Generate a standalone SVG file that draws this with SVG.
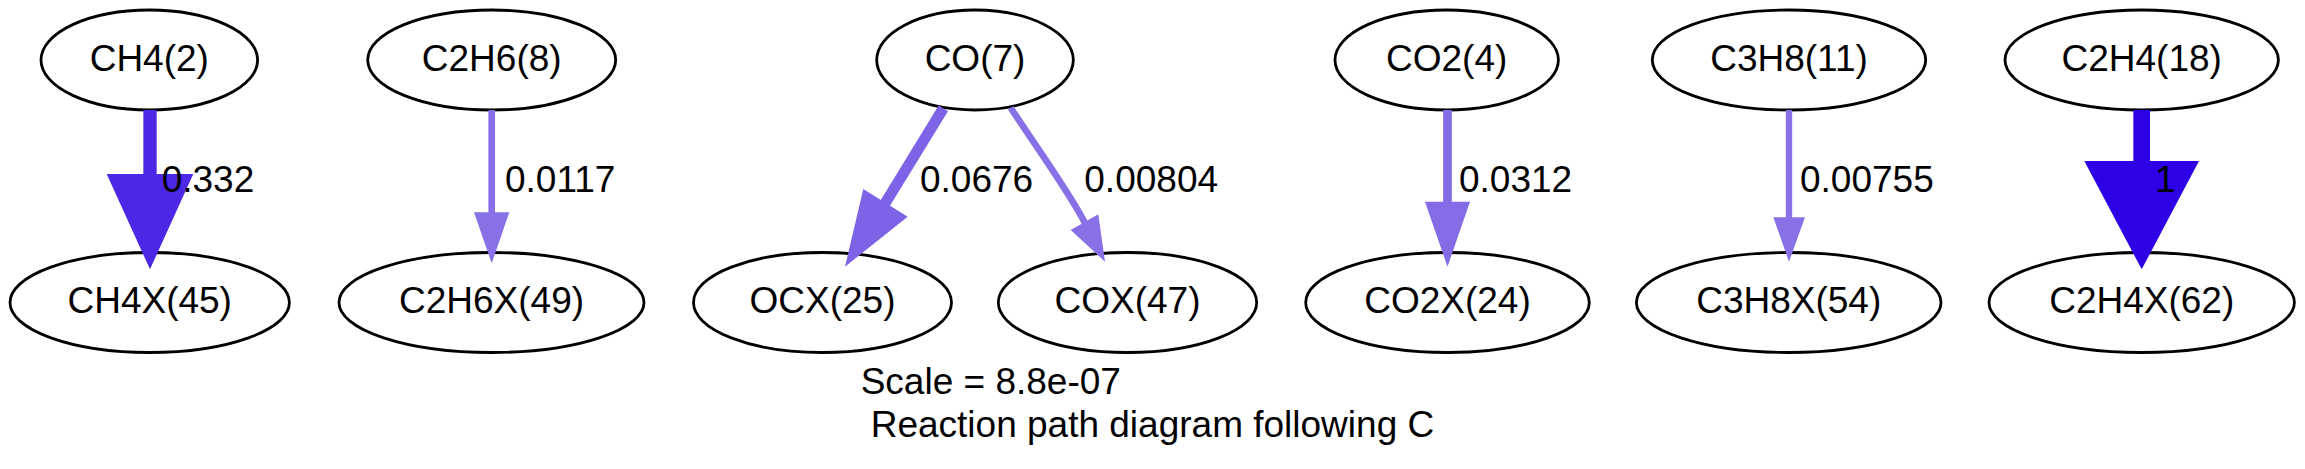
<svg xmlns="http://www.w3.org/2000/svg" width="2305" height="469" viewBox="0 0 2305 469">
<style>
text{font-family:"Liberation Sans",Arial,Helvetica,sans-serif;font-size:37px;fill:#000}
.n ellipse{fill:none;stroke:#000;stroke-width:2.8}
.n text{text-anchor:middle}
</style>
<rect width="2305" height="469" fill="#fff"/>
<g id="nodes">
<g id="CH4" class="n"><ellipse cx="149.3" cy="60" rx="108.3" ry="50"/><text x="149.3" y="71">CH4(2)</text></g>
<g id="CH4X" class="n"><ellipse cx="149.7" cy="302.5" rx="139.7" ry="50"/><text x="149.7" y="313">CH4X(45)</text></g>
<g id="C2H6" class="n"><ellipse cx="491.7" cy="60" rx="124" ry="50"/><text x="491.7" y="71">C2H6(8)</text></g>
<g id="C2H6X" class="n"><ellipse cx="491.5" cy="302.5" rx="152.5" ry="50"/><text x="491.5" y="313">C2H6X(49)</text></g>
<g id="CO" class="n"><ellipse cx="975" cy="60" rx="98.3" ry="50"/><text x="975" y="71">CO(7)</text></g>
<g id="OCX" class="n"><ellipse cx="822.5" cy="302.5" rx="129" ry="50"/><text x="822.5" y="313">OCX(25)</text></g>
<g id="COX" class="n"><ellipse cx="1127.5" cy="302.5" rx="129.2" ry="50"/><text x="1127.5" y="313">COX(47)</text></g>
<g id="CO2" class="n"><ellipse cx="1446.7" cy="60" rx="111.7" ry="50"/><text x="1446.7" y="71">CO2(4)</text></g>
<g id="CO2X" class="n"><ellipse cx="1447.5" cy="302.5" rx="141.8" ry="50"/><text x="1447.5" y="313">CO2X(24)</text></g>
<g id="C3H8" class="n"><ellipse cx="1789" cy="60" rx="136.7" ry="50"/><text x="1789" y="71">C3H8(11)</text></g>
<g id="C3H8X" class="n"><ellipse cx="1788.7" cy="302.5" rx="152.3" ry="50"/><text x="1788.7" y="313">C3H8X(54)</text></g>
<g id="C2H4" class="n"><ellipse cx="2141.7" cy="60" rx="136.7" ry="50"/><text x="2141.7" y="71">C2H4(18)</text></g>
<g id="C2H4X" class="n"><ellipse cx="2141.7" cy="302.5" rx="152.7" ry="50"/><text x="2141.7" y="313">C2H4X(62)</text></g>
</g>
<g id="edges" fill="none">
<g id="e_CH4"><line x1="150" y1="110" x2="150" y2="175" stroke="#4d27e6" stroke-width="13.3"/><polygon points="106.7,174 193.3,174 150,269.3" fill="#4d27e6"/><text x="161.7" y="191.7">0.332</text></g>
<g id="e_C2H6"><line x1="491.7" y1="110" x2="491.7" y2="213" stroke="#8870e6" stroke-width="6.7"/><polygon points="474,212.3 509.3,212.3 491.7,263.3" fill="#8870e6"/><text x="505" y="191.7">0.0117</text></g>
<g id="e_CO_OCX"><line x1="943.3" y1="108.3" x2="885" y2="203.5" stroke="#7d63e6" stroke-width="11"/><polygon points="863.3,189 907.7,216.7 845,266.7" fill="#7d63e6"/><text x="920" y="191.7">0.0676</text></g>
<g id="e_CO_COX"><path d="M1010.7,107.7 C1030,138 1068,190 1085,223" stroke="#8871e6" stroke-width="6.6"/><polygon points="1070.7,230 1098.3,214.3 1105,261.7" fill="#8871e6"/><text x="1084.3" y="191.7">0.00804</text></g>
<g id="e_CO2"><line x1="1447.5" y1="110" x2="1447.5" y2="202.5" stroke="#846ce6" stroke-width="8.7"/><polygon points="1425,201.7 1470,201.7 1447.5,266.7" fill="#846ce6"/><text x="1459" y="191.7">0.0312</text></g>
<g id="e_C3H8"><line x1="1789" y1="110" x2="1789" y2="218" stroke="#8871e6" stroke-width="6.4"/><polygon points="1773.3,217.3 1805,217.3 1789,261.7" fill="#8871e6"/><text x="1800" y="191.7">0.00755</text></g>
<g id="e_C2H4"><line x1="2141.7" y1="110" x2="2141.7" y2="162" stroke="#2e00e6" stroke-width="16.7"/><polygon points="2084.3,161 2199,161 2141.7,269.3" fill="#2e00e6"/><text x="2155" y="191.7">1</text></g>
</g>
<g id="label">
<text x="860.7" y="394.3">Scale = 8.8e-07</text>
<text x="870.7" y="437.3">Reaction path diagram following C</text>
</g>
</svg>
